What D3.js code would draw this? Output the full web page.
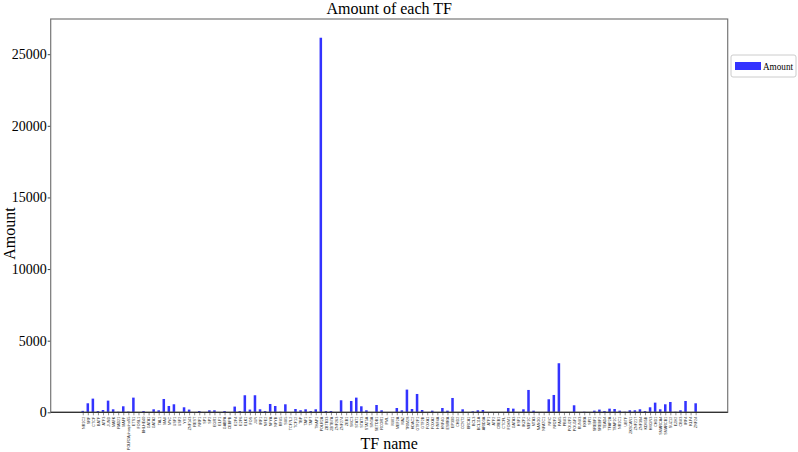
<!DOCTYPE html>
<html>
<head>
<meta charset="utf-8">
<script src="https://cdn.jsdelivr.net/npm/d3@7"></script>
<style>
  html, body { margin: 0; padding: 0; background: #fff; }
  svg { display: block; }
</style>
</head>
<body>
<svg id="chart" width="798" height="452"></svg>
<script>
const tfNames = [
  "NR2C2","SRF","CTCF","BATF","ATF3","JUND","MAFK","RAD21","MAFF","POLR2AphosphoS5",
  "ETS1","FOSL1","BHLHE40","GATA1","GATA2","TAL1","MAX","MYC","USF1","USF2",
  "YY1","ZNF143","REST","NRF1","SP1","SP2","EGR1","ELF1","GABPA","CEBPB",
  "E2F4","E2F6","ELK1","FOS","JUN","IRF1","NFE2","NFYA","NFYB","RFX5",
  "SIX5","TCF7L2","TCF12","TBP","TAF1","TAF7","THAP1","POLR2A","ZBTB33","ZBTB7A",
  "ZNF263","ZNF274","ZEB1","SMC3","STAT1","STAT3","STAT5A","SIN3A","SETDB1","RCOR1",
  "PML","MXI1","MEF2A","MAZ","TRIM28","HDAC2","GTF2F1","GTF2B","FOXA1","FOXA2",
  "HNF4A","HNF4G","ESRRA","EP300","CHD2","CCNT2","BRCA1","BCL3","BCL11A","ARID3A",
  "ATF1","ATF2","CREB1","CTCFL","FOXM1","GATA3","HSF1","IKZF1","MEF2C","MTA3",
  "NANOG","NFATC1","NFIC","NR2F2","PAX5","PBX3","POU2F2","POU5F1","RUNX3","RXRA",
  "SPI1","SREBF1","SREBF2","TEAD4","TFAP2A","TFAP2C","NR2C1","UBTF","ZKSCAN1","ZNF217",
  "ZNF384","KDM5B","HMGN3","CHD1","SMARCA4","SMARCB1","SUZ12","EZH2","CBX3","IRF4",
  "KLF4","ZNF24"
];
const amounts = [
  100,630,955,90,160,815,210,40,420,50,
  1025,10,90,20,210,140,930,440,560,20,
  350,190,20,90,20,140,140,20,90,15,
  400,90,1190,190,1190,210,90,580,440,40,
  560,20,230,140,210,90,210,26150,90,90,
  20,840,20,790,1025,420,140,20,510,140,
  20,20,300,140,1585,230,1280,160,20,115,
  20,300,115,1000,20,210,20,70,140,160,
  20,20,20,20,300,255,20,210,1560,115,
  20,20,910,1210,3425,20,20,490,20,40,
  20,115,190,90,255,230,115,40,140,140,
  210,90,350,675,210,560,720,40,140,790,
  20,630
];
const yTickValues = [0, 5000, 10000, 15000, 20000, 25000];
const seriesName = "Amount";
const titleText = "Amount of each TF";
const xLabelText = "TF name";
const yLabelText = "Amount";

const svg = d3.select("#chart");
const pLeft = 50.7, pRight = 727.7, pTop = 19, pBottom = 412.3;
const serif = "'Liberation Serif','Times New Roman',Times,serif";
const barColor = "rgba(0,0,255,0.8)";

const n = amounts.length;
const pad = 0.25 + 0.05 * (n - 1 + 0.5);
const x = d3.scaleLinear().domain([-pad, n - 1 + pad]).range([pLeft, pRight]);
const yMax = d3.max(amounts) * 1.05;
const y = d3.scaleLinear().domain([0, yMax]).range([pBottom, pTop]);
const bw = x(0.5) - x(0);

// bars
svg.append("g").selectAll("rect").data(amounts).join("rect")
  .attr("x", (d, i) => x(i) - bw / 2)
  .attr("width", bw)
  .attr("y", d => y(d))
  .attr("height", d => y(0) - y(d))
  .attr("fill", barColor);

// x axis
const xAxis = d3.axisBottom(x)
  .tickValues(d3.range(n))
  .tickFormat(i => tfNames[i])
  .tickSize(3).tickSizeOuter(0);
const gx = svg.append("g").attr("transform", `translate(0,${pBottom})`).call(xAxis);
gx.select(".domain").remove();
gx.selectAll(".tick line").attr("stroke", "#444").attr("stroke-width", 0.6);
gx.selectAll(".tick text")
  .attr("font-family", "'Liberation Sans',Arial,sans-serif")
  .attr("font-size", 3.7)
  .attr("fill", "#222")
  .attr("text-anchor", "end")
  .attr("dy", "0.35em")
  .attr("transform", "translate(0,4.5) rotate(-90)")
  .attr("x", 0).attr("y", 0);

// y axis
const yAxis = d3.axisLeft(y).tickValues(yTickValues).tickFormat(d3.format("d")).tickSize(3).tickSizeOuter(0);
const gy = svg.append("g").attr("transform", `translate(${pLeft},0)`).call(yAxis);
gy.select(".domain").remove();
gy.selectAll(".tick line").attr("stroke", "#444");
gy.selectAll(".tick text")
  .attr("font-family", serif)
  .attr("font-size", 14)
  .attr("fill", "#000")
  .attr("x", -4);

// frame
svg.append("rect")
  .attr("x", pLeft).attr("y", pTop)
  .attr("width", pRight - pLeft).attr("height", pBottom - pTop)
  .attr("fill", "none").attr("stroke", "#777").attr("stroke-width", 1.2);
svg.append("line")
  .attr("x1", pLeft).attr("x2", pRight).attr("y1", pBottom).attr("y2", pBottom)
  .attr("stroke", "#333").attr("stroke-width", 1.2);

// title & labels
svg.append("text").attr("x", (pLeft + pRight) / 2).attr("y", 14)
  .attr("text-anchor", "middle").attr("font-family", serif).attr("font-size", 16)
  .text(titleText);
svg.append("text").attr("x", (pLeft + pRight) / 2).attr("y", 449)
  .attr("text-anchor", "middle").attr("font-family", serif).attr("font-size", 16)
  .text(xLabelText);
svg.append("text")
  .attr("transform", `translate(15,${(pTop + pBottom) / 2 + 18}) rotate(-90)`)
  .attr("text-anchor", "middle").attr("font-family", serif).attr("font-size", 16)
  .text(yLabelText);

// legend
const lg = svg.append("g").attr("transform", "translate(731,55)");
lg.append("rect").attr("x", 0).attr("y", 0).attr("width", 65).attr("height", 22)
  .attr("rx", 2).attr("fill", "#fff").attr("stroke", "#ccc").attr("stroke-width", 1);
lg.append("rect").attr("x", 4).attr("y", 7).attr("width", 26).attr("height", 8)
  .attr("fill", barColor);
lg.append("text").attr("x", 32).attr("y", 15).attr("font-family", serif)
  .attr("font-size", 11).attr("textLength", 30).attr("lengthAdjust", "spacingAndGlyphs")
  .text(seriesName);
</script>
</body>
</html>
